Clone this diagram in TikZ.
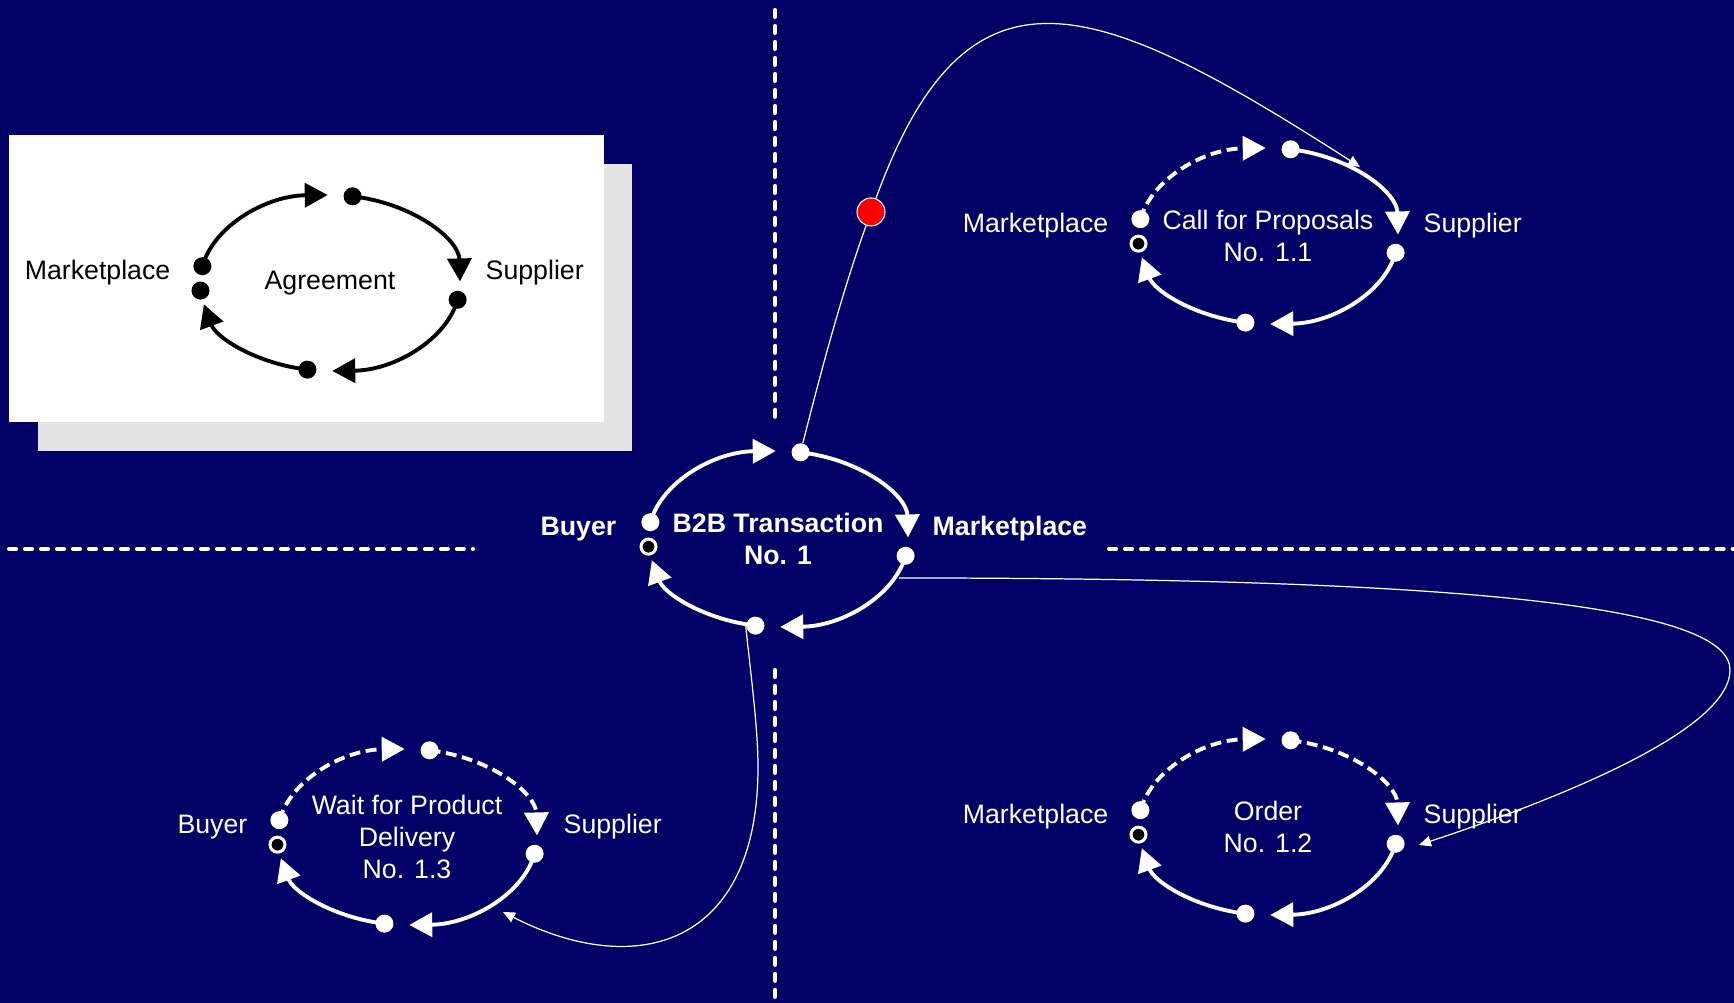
\documentclass[tikz,border=0pt]{standalone}
\usepackage{fontspec}
\setmainfont{Liberation Sans}
\usetikzlibrary{arrows.meta}
\definecolor{navy}{RGB}{0,0,102}
\definecolor{shadowgray}{RGB}{228,228,228}

\begin{document}
\begin{tikzpicture}
[flow/.style={white, line width=1.1pt, -{Triangle[length=0.23cm,width=0.24cm]}},
flow dashed/.style={flow, dash pattern=on 3.1pt off 1.6pt},
spot/.style={circle, fill=white, inner sep=0pt, minimum size=0.18cm},
start spot/.style={circle, draw=white, fill=black, line width=0.85pt, inner sep=0pt, minimum size=0.15cm},
link/.style={white, line width=0.35pt, -{Triangle[length=3.4pt,width=3pt]}},
divider/.style={white, line width=1.15pt, line cap=round, dash pattern=on 2pt off 2.55pt},
role/.style={text=white, inner sep=0pt, font=\fontsize{7.6}{9.1}\selectfont},
strong role/.style={role, font=\fontsize{7.6}{9.1}\selectfont\bfseries},
title/.style={role, align=center}]
\useasboundingbox (0,0) rectangle (17.34,10.03);
\fill[navy] (0,0) rectangle (17.34,10.03);
% quadrant lines
\draw[divider] (7.75,9.93) -- (7.75,5.78);
\draw[divider] (7.75,3.33) -- (7.75,0);
\draw[divider] (0.09,4.54) -- (4.73,4.54);
\draw[divider] (11.09,4.54) -- (17.34,4.54);
% legend card
\fill[shadowgray] (0.38,5.52) rectangle (6.32,8.39);
\fill[white] (0.09,5.81) rectangle (6.04,8.68);
\begin{scope}[shift={(3.30,7.20)}]
\node[spot, fill=black] (agr-T) at (80:1.3 and 0.88) {};
\node[spot, fill=black] (agr-LU) at (169:1.3 and 0.88) {};
\node[spot, fill=black] (agr-LL) at (185:1.3 and 0.88) {};
\node[spot, fill=black] (agr-R) at (349:1.3 and 0.88) {};
\node[spot, fill=black] (agr-B) at (260:1.3 and 0.88) {};
\draw[flow, black] (agr-LU.center) arc[start angle=169, end angle=91, x radius=1.3, y radius=0.88];
\draw[flow, black] (agr-T.center) arc[start angle=80, end angle=1, x radius=1.3, y radius=0.88];
\draw[flow, black] (agr-R.center) arc[start angle=-11, end angle=-89, x radius=1.3, y radius=0.88];
\draw[flow, black] (agr-B.center) arc[start angle=-100, end angle=-166, x radius=1.3, y radius=0.88];
\node[role, text=black, anchor=east] (agr-left) at (-1.59,0.10) {Marketplace};
\node[role, text=black, anchor=west] (agr-right) at (1.55,0.10) {Supplier};
\node[title, text=black] (agr-name) at (0,0) {Agreement};
\end{scope}
% main transaction
\begin{scope}[shift={(7.78,4.64)}]
\node[spot] (b2b-T) at (80:1.3 and 0.88) {};
\node[spot] (b2b-LU) at (169:1.3 and 0.88) {};
\node[start spot] (b2b-LL) at (185:1.3 and 0.88) {};
\node[spot] (b2b-R) at (349:1.3 and 0.88) {};
\node[spot] (b2b-B) at (260:1.3 and 0.88) {};
\draw[flow] (b2b-LU.center) arc[start angle=169, end angle=91, x radius=1.3, y radius=0.88];
\draw[flow] (b2b-T.center) arc[start angle=80, end angle=1, x radius=1.3, y radius=0.88];
\draw[flow] (b2b-R.center) arc[start angle=-11, end angle=-89, x radius=1.3, y radius=0.88];
\draw[flow] (b2b-B.center) arc[start angle=-100, end angle=-166, x radius=1.3, y radius=0.88];
\node[strong role, anchor=east] (b2b-left) at (-1.61,0.10) {Buyer};
\node[strong role, anchor=west] (b2b-right) at (1.54,0.10) {Marketplace};
\node[title, font=\fontsize{7.6}{9.1}\selectfont\bfseries] (b2b-name) at (0,0) {B2B Transaction\\No. 1};
\end{scope}
% call for proposals
\begin{scope}[shift={(12.68,7.67)}]
\node[spot] (cfp-T) at (80:1.3 and 0.88) {};
\node[spot] (cfp-LU) at (169:1.3 and 0.88) {};
\node[start spot] (cfp-LL) at (185:1.3 and 0.88) {};
\node[spot] (cfp-R) at (349:1.3 and 0.88) {};
\node[spot] (cfp-B) at (260:1.3 and 0.88) {};
\draw[flow dashed] (cfp-LU.center) arc[start angle=169, end angle=91, x radius=1.3, y radius=0.88];
\draw[flow] (cfp-T.center) arc[start angle=80, end angle=1, x radius=1.3, y radius=0.88];
\draw[flow] (cfp-R.center) arc[start angle=-11, end angle=-89, x radius=1.3, y radius=0.88];
\draw[flow] (cfp-B.center) arc[start angle=-100, end angle=-166, x radius=1.3, y radius=0.88];
\node[role, anchor=east] (cfp-left) at (-1.59,0.10) {Marketplace};
\node[role, anchor=west] (cfp-right) at (1.55,0.10) {Supplier};
\node[title] (cfp-name) at (0,0) {Call for Proposals\\No. 1.1};
\end{scope}
% order
\begin{scope}[shift={(12.68,1.76)}]
\node[spot] (ord-T) at (80:1.3 and 0.88) {};
\node[spot] (ord-LU) at (169:1.3 and 0.88) {};
\node[start spot] (ord-LL) at (185:1.3 and 0.88) {};
\node[spot] (ord-R) at (349:1.3 and 0.88) {};
\node[spot] (ord-B) at (260:1.3 and 0.88) {};
\draw[flow dashed] (ord-LU.center) arc[start angle=169, end angle=91, x radius=1.3, y radius=0.88];
\draw[flow dashed] (ord-T.center) arc[start angle=80, end angle=1, x radius=1.3, y radius=0.88];
\draw[flow] (ord-R.center) arc[start angle=-11, end angle=-89, x radius=1.3, y radius=0.88];
\draw[flow] (ord-B.center) arc[start angle=-100, end angle=-166, x radius=1.3, y radius=0.88];
\node[role, anchor=east] (ord-left) at (-1.59,0.10) {Marketplace};
\node[role, anchor=west] (ord-right) at (1.55,0.10) {Supplier};
\node[title] (ord-name) at (0,0) {Order\\No. 1.2};
\end{scope}
% wait for product delivery
\begin{scope}[shift={(4.07,1.66)}]
\node[spot] (wpd-T) at (80:1.3 and 0.88) {};
\node[spot] (wpd-LU) at (169:1.3 and 0.88) {};
\node[start spot] (wpd-LL) at (185:1.3 and 0.88) {};
\node[spot] (wpd-R) at (349:1.3 and 0.88) {};
\node[spot] (wpd-B) at (260:1.3 and 0.88) {};
\draw[flow dashed] (wpd-LU.center) arc[start angle=169, end angle=91, x radius=1.3, y radius=0.88];
\draw[flow dashed] (wpd-T.center) arc[start angle=80, end angle=1, x radius=1.3, y radius=0.88];
\draw[flow] (wpd-R.center) arc[start angle=-11, end angle=-89, x radius=1.3, y radius=0.88];
\draw[flow] (wpd-B.center) arc[start angle=-100, end angle=-166, x radius=1.3, y radius=0.88];
\node[role, anchor=east] (wpd-left) at (-1.59,0.10) {Buyer};
\node[role, anchor=west] (wpd-right) at (1.56,0.10) {Supplier};
\node[title] (wpd-name) at (0,0) {Wait for Product\\Delivery\\No. 1.3};
\end{scope}
% links between the transactions
\node[circle, fill=red, draw=white, line width=0.3pt, inner sep=0pt, minimum size=0.28cm] (relay) at (8.71,7.91) {};
\coordinate (cfp-in) at (13.60,8.36);
\coordinate (ord-in) at (14.19,1.58);
\coordinate (wpd-in) at (5.03,0.91);
\coordinate (b2b-out) at (8.99,4.25);
\draw[link] (b2b-T) .. controls (8.23,6.40) and (8.44,7.16) .. (relay) .. controls (9.67,10.54) and (10.91,10.09) .. (cfp-in);
\draw[link] (b2b-out) .. controls (14.99,4.25) and (17.30,3.93) .. (17.30,3.33) .. controls (17.30,2.73) and (15.61,2.05) .. (ord-in);
\draw[link] (b2b-B.west) .. controls (7.50,3.35) and (7.58,2.76) .. (7.58,2.36) .. controls (7.58,0.56) and (6.36,0.23) .. (wpd-in);
\end{tikzpicture}
\end{document}
